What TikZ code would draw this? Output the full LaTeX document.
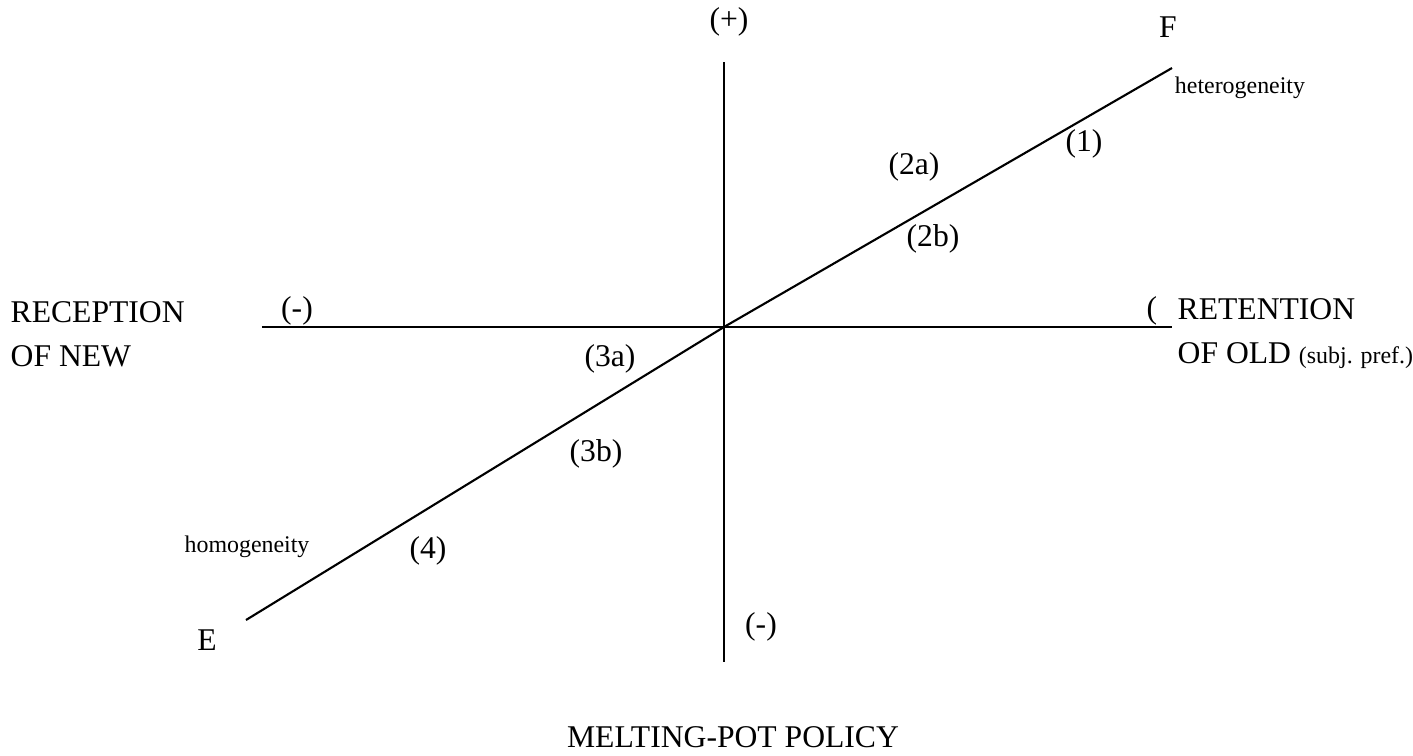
\documentclass[tikz,border=0pt]{standalone}
\usepackage{fontspec}
\setmainfont{Liberation Serif}
\tikzset{
    axis/.style={line width=0.6pt, black},
    lbl/.style={inner sep=0pt, font=\fontsize{9}{12.5}\selectfont},
    smalllbl/.style={inner sep=0pt, font=\fontsize{6.8}{8}\selectfont}
}
\begin{document}
\begin{tikzpicture}[x=1cm, y=1cm]
    \useasboundingbox (0,0) rectangle (14.13,-7.55);

    % Axes and the E--F line
    \coordinate (O) at (7.24,-3.27);
    \coordinate (top) at (7.24,-0.62);
    \coordinate (bot) at (7.24,-6.62);
    \coordinate (left) at (2.62,-3.27);
    \coordinate (right) at (11.72,-3.27);
    \coordinate (Fend) at (11.72,-0.68);
    \coordinate (Eend) at (2.46,-6.20);
    \draw[axis] (top) -- (bot);
    \draw[axis] (left) -- (right);
    \draw[axis] (Eend) -- (O) -- (Fend);

    % Ends of the axes
    \node[lbl] (plustop) at (7.29,-0.22) {(+)};
    \node[lbl] (minusbot) at (7.61,-6.27) {(-)};
    \node[lbl] (minusleft) at (2.97,-3.11) {(-)};
    \node[lbl, anchor=west] (plusright) at (11.46,-3.11) {(};

    % Axis names
    \node[lbl, align=left, anchor=west] (recep) at (0.10,-3.34)
        {RECEPTION\\OF NEW};
    \node[lbl, align=left, anchor=west] (retent) at (11.77,-3.34)
        {RETENTION\\OF OLD {\fontsize{6.8}{8}\selectfont(subj. pref.)}};
    \node[lbl] (policy) at (7.33,-7.37) {MELTING-POT POLICY};

    % Points on the E--F line
    \node[lbl] (F) at (11.68,-0.27) {F};
    \node[smalllbl] (hetero) at (12.40,-0.88) {heterogeneity};
    \node[lbl] (p1) at (10.84,-1.44) {(1)};
    \node[lbl] (p2a) at (9.14,-1.67) {(2a)};
    \node[lbl] (p2b) at (9.33,-2.39) {(2b)};
    \node[lbl] (p3a) at (6.10,-3.59) {(3a)};
    \node[lbl] (p3b) at (5.96,-4.54) {(3b)};
    \node[lbl] (p4) at (4.28,-5.51) {(4)};
    \node[smalllbl] (homo) at (2.47,-5.47) {homogeneity};
    \node[lbl] (E) at (2.07,-6.40) {E};
\end{tikzpicture}
\end{document}
